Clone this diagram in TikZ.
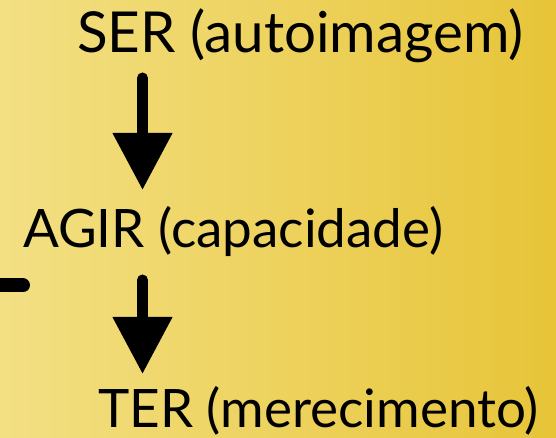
\documentclass[tikz,border=0pt]{standalone}
\usepackage{fontspec}
\setmainfont{Lato}
\usetikzlibrary{arrows.meta, positioning}

\definecolor{bgleft}{RGB}{243,224,132}
\definecolor{bgright}{RGB}{231,196,56}

\tikzset{
  label/.style={anchor=base west, inner sep=0pt, font=\fontsize{53}{58}\selectfont},
  bigarrow/.style={line width=11pt, line cap=round, -{Triangle[length=57pt,width=57pt]}},
}

\begin{document}
\begin{tikzpicture}[x=1pt,y=1pt]
\useasboundingbox (0,0) rectangle (556,438);
\shade[left color=bgleft, right color=bgright] (0,0) rectangle (556,438);

\node[label, font=\fontsize{56.5}{60}\selectfont] (ser) at (77,385) {SER (autoimagem)};
\node[label] (agir) at (23,190) {AGIR (capacidade)};
\node[label] (ter) at (98,10) {TER (merecimento)};

\coordinate (a1s) at (142.5,360);
\coordinate (a1e) at (142.5,248);
\coordinate (a2s) at (142.5,158);
\coordinate (a2e) at (142.5,64);
\draw[bigarrow] (a1s) -- (a1e);
\draw[bigarrow] (a2s) -- (a2e);

% short bar on the left
\draw[line width=14pt, line cap=round] (-10,152.5) -- (23,152.5);
\end{tikzpicture}
\end{document}
